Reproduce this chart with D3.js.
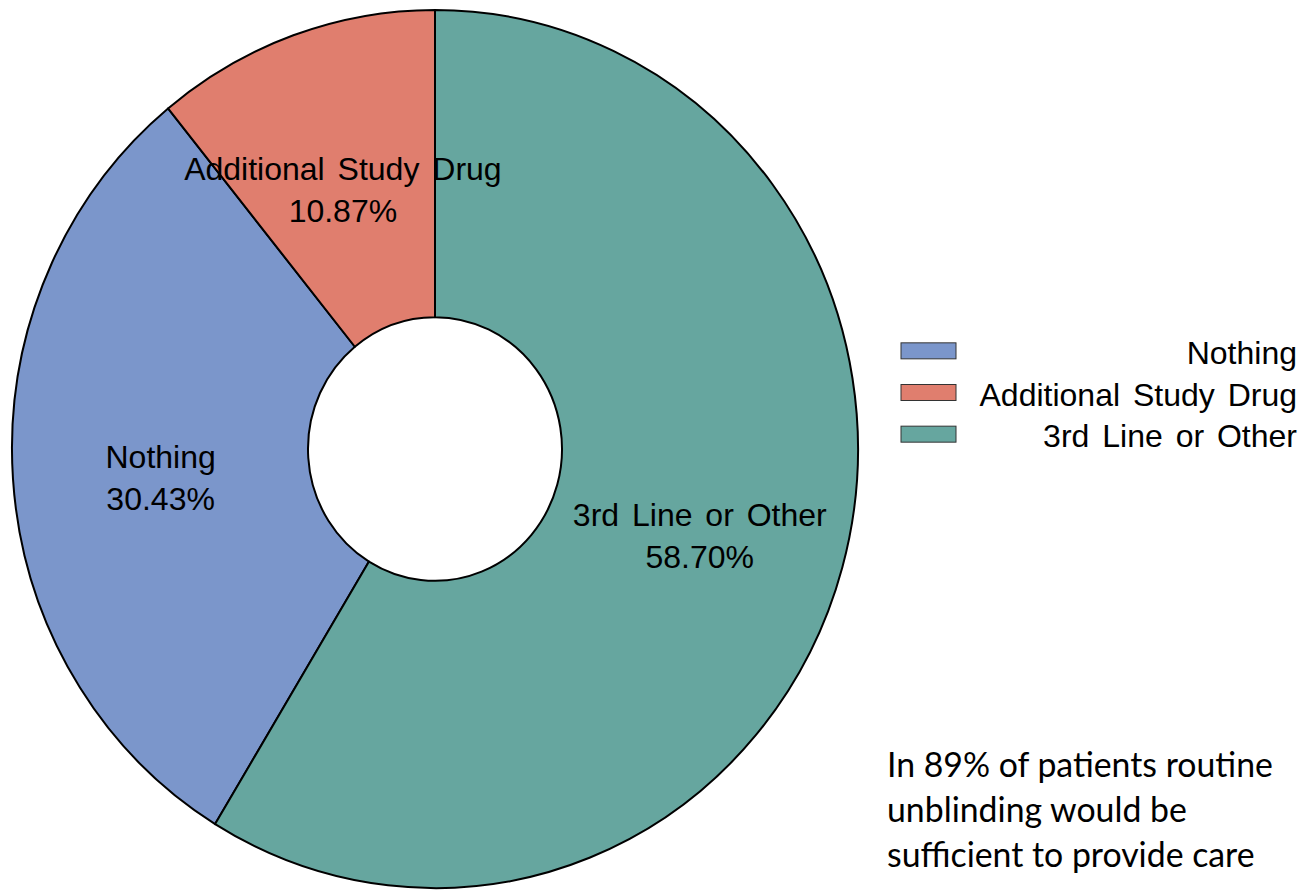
<!DOCTYPE html>
<html>
<head>
<meta charset="utf-8">
<script src="https://cdn.jsdelivr.net/npm/d3@7"></script>
<style>
  html, body { margin: 0; padding: 0; background: #fff; }
  svg { display: block; }
</style>
</head>
<body>
<svg id="chart" width="1306" height="893"></svg>
<script>
// Categories in legend order, with their shares (percent) and fill colours
const categories = ["Nothing", "Additional Study Drug", "3rd Line or Other"];
const shares = [30.43, 10.87, 58.70];
const colors = ["#7b96cb", "#e07e6e", "#66a69f"];
// Order in which the slices run clockwise from 12 o'clock
const sliceOrder = ["3rd Line or Other", "Nothing", "Additional Study Drug"];
const noteLines = [
  "In 89% of patients routine",
  "unblinding would be",
  "sufficient to provide care"
];

const data = categories.map((c, i) => ({ name: c, value: shares[i], color: colors[i] }));

const svg = d3.select("#chart");
const W = 1306, H = 893;

// Donut geometry (drawn slightly taller than wide)
const cx = 435, cy = 449;
const outerR = 423, innerR = 127, yStretch = 1.038;

const pie = d3.pie()
  .value(d => d.value)
  .sort((a, b) => sliceOrder.indexOf(a.name) - sliceOrder.indexOf(b.name));

const arc = d3.arc().innerRadius(innerR).outerRadius(outerR);
const arcs = pie(data);

const g = svg.append("g")
  .attr("transform", `translate(${cx},${cy}) scale(1,${yStretch})`);

g.selectAll("path.slice")
  .data(arcs)
  .enter().append("path")
  .attr("class", "slice")
  .attr("d", arc)
  .attr("fill", d => d.data.color)
  .attr("stroke", "#000")
  .attr("stroke-width", 2)
  .attr("stroke-linejoin", "round")
  .attr("vector-effect", "non-scaling-stroke");

// Slice labels: name and percent, first line sitting on the slice centroid
const labelFont = "'Liberation Sans', Arial, sans-serif";
const labels = svg.append("g");
arcs.forEach(d => {
  const [x, y] = arc.centroid(d);
  const t = labels.append("text")
    .attr("x", cx + x)
    .attr("y", cy + y * yStretch)
    .attr("text-anchor", "middle")
    .attr("font-family", labelFont)
    .attr("font-size", 32)
    .attr("word-spacing", 4)
    .attr("fill", "#000");
  t.append("tspan").attr("x", cx + x).text(d.data.name);
  t.append("tspan").attr("x", cx + x).attr("dy", 42)
    .text(d3.format(".2f")(d.data.value) + "%");
});

// Legend
const legend = svg.append("g");
const legY = d3.scaleBand().domain(categories).range([330, 455]);
categories.forEach((c, i) => {
  const y0 = legY(c) + legY.bandwidth() / 2;
  legend.append("rect")
    .attr("x", 901).attr("y", y0 - 8)
    .attr("width", 55).attr("height", 16)
    .attr("fill", colors[i])
    .attr("stroke", "#333")
    .attr("stroke-width", 1);
  legend.append("text")
    .attr("x", 1297).attr("y", y0 + 13)
    .attr("text-anchor", "end")
    .attr("font-family", labelFont)
    .attr("font-size", 32)
    .attr("word-spacing", 4)
    .attr("fill", "#000")
    .text(c);
});

// Note in the lower right corner
const note = svg.append("text")
  .attr("font-family", "Lato, 'Open Sans', sans-serif")
  .attr("font-size", 36)
  .attr("fill", "#000");
noteLines.forEach((line, i) => {
  note.append("tspan").attr("x", 887).attr("y", 777 + i * 45).text(line);
});
// fit the widest line to the available width
const widest = d3.max(note.selectAll("tspan").nodes(), n => n.getComputedTextLength());
note.attr("font-size", 36 * 386 / widest);
</script>
</body>
</html>
